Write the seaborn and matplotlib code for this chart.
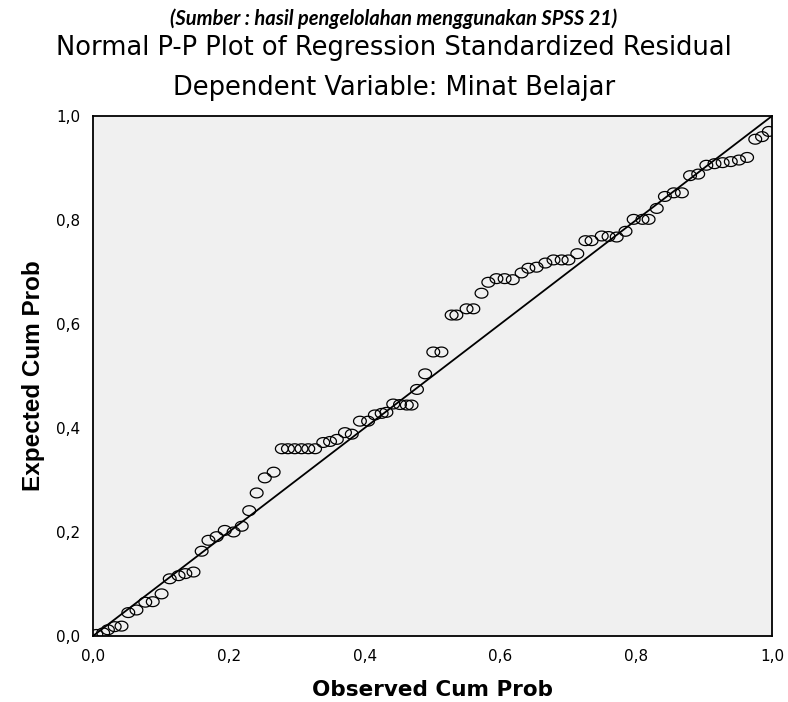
import numpy as np
import pandas as pd
import matplotlib
matplotlib.use("Agg")
import matplotlib.pyplot as plt
import seaborn as sns

observed = [0.005, 0.015, 0.022, 0.032, 0.042, 0.052, 0.064, 0.077, 0.088, 0.101,
            0.113, 0.126, 0.136, 0.148, 0.160, 0.170, 0.182, 0.194, 0.207, 0.219,
            0.230, 0.241, 0.253, 0.266, 0.278, 0.287, 0.297, 0.307, 0.317, 0.327,
            0.339, 0.349, 0.359, 0.371, 0.381, 0.393, 0.405, 0.415, 0.425, 0.432,
            0.442, 0.452, 0.462, 0.469, 0.477, 0.489, 0.501, 0.513, 0.528, 0.535,
            0.550, 0.560, 0.572, 0.582, 0.594, 0.606, 0.618, 0.631, 0.641, 0.653,
            0.666, 0.678, 0.690, 0.700, 0.713, 0.725, 0.734, 0.749, 0.759, 0.771,
            0.784, 0.796, 0.809, 0.818, 0.830, 0.842, 0.855, 0.867, 0.879, 0.891,
            0.903, 0.915, 0.927, 0.939, 0.951, 0.963, 0.975, 0.985, 0.995]
expected = [0.003, 0.006, 0.012, 0.018, 0.019, 0.045, 0.050, 0.065, 0.066, 0.081,
            0.110, 0.116, 0.120, 0.123, 0.163, 0.184, 0.191, 0.203, 0.200, 0.211,
            0.241, 0.275, 0.304, 0.315, 0.360, 0.360, 0.360, 0.360, 0.360, 0.360,
            0.372, 0.374, 0.378, 0.391, 0.388, 0.413, 0.413, 0.425, 0.428, 0.430,
            0.446, 0.445, 0.444, 0.444, 0.474, 0.504, 0.546, 0.546, 0.617, 0.617,
            0.629, 0.629, 0.659, 0.680, 0.687, 0.687, 0.685, 0.698, 0.707, 0.709,
            0.717, 0.723, 0.723, 0.723, 0.735, 0.760, 0.760, 0.769, 0.768, 0.767,
            0.778, 0.801, 0.801, 0.801, 0.822, 0.845, 0.852, 0.852, 0.885, 0.888,
            0.905, 0.908, 0.910, 0.912, 0.915, 0.920, 0.955, 0.960, 0.970]
tick_values = [0.0, 0.2, 0.4, 0.6, 0.8, 1.0]
tick_labels = ["0,0", "0,2", "0,4", "0,6", "0,8", "1,0"]

df = pd.DataFrame({"Observed Cum Prob": observed, "Expected Cum Prob": expected})

sns.set_style("white")
plt.rcParams["font.family"] = ["DejaVu Sans"]
plt.rcParams["text.color"] = "black"
plt.rcParams["axes.labelcolor"] = "black"
plt.rcParams["xtick.color"] = "black"
plt.rcParams["ytick.color"] = "black"

fig = plt.figure(figsize=(7.88, 7.02), dpi=100)
ax = fig.add_axes([0.118, 0.094, 0.862, 0.741])
ax.set_facecolor("#F0F0F0")

# slightly wide elliptical open marker (the source image is stretched horizontally)
t = np.linspace(0, 2 * np.pi, 41)
ell = list(zip(1.3 * np.cos(t), np.sin(t)))

ax.axline((0, 0), slope=1, color="black", lw=1.3, zorder=2)
sns.scatterplot(data=df, x="Observed Cum Prob", y="Expected Cum Prob", ax=ax,
                marker=ell, s=85, facecolor="none", edgecolor="black",
                linewidth=0.9, zorder=3)

ax.set_xlim(0, 1)
ax.set_ylim(0, 1)
ax.set_xticks(tick_values, tick_labels)
ax.set_yticks(tick_values, tick_labels)
ax.tick_params(axis="both", direction="out", length=6, width=1.2, color="black",
               labelsize=11, pad=3, labelcolor="black")
for sp in ax.spines.values():
    sp.set_visible(True)
    sp.set_color("black")
    sp.set_linewidth(1.3)

ax.set_xlabel("Observed Cum Prob", fontsize=15.5, fontweight="bold", labelpad=12)
ax.set_ylabel("Expected Cum Prob", fontsize=17.5, fontweight="bold", labelpad=8,
              family=["Liberation Sans", "DejaVu Sans"])

fig.text(0.5, 0.974, "(Sumber : hasil pengelolahan menggunakan SPSS 21)",
         ha="center", va="center", fontsize=14.5, fontweight="bold", style="italic",
         family=["Lato", "DejaVu Sans"])
fig.text(0.5, 0.932, "Normal P-P Plot of Regression Standardized Residual",
         ha="center", va="center", fontsize=18.5)
fig.text(0.5, 0.874, "Dependent Variable: Minat Belajar",
         ha="center", va="center", fontsize=18.5)

fig.savefig("out.png", dpi=100, facecolor="white")
